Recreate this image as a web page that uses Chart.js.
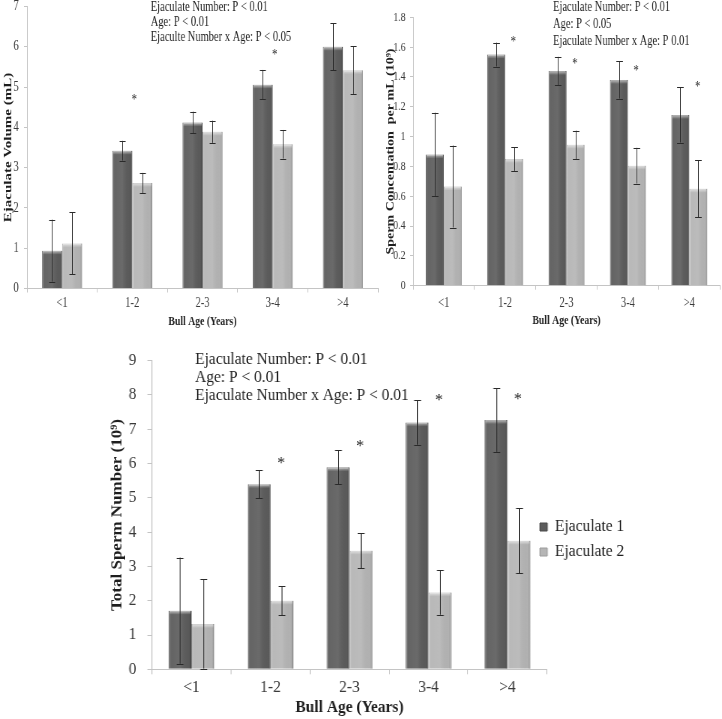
<!DOCTYPE html>
<html>
<head>
<meta charset="utf-8">
<script src="https://cdn.jsdelivr.net/npm/chart.js@4.4.1/dist/chart.umd.min.js"></script>
<style>
html,body{margin:0;padding:0;background:#fff;}
body{width:722px;height:719px;overflow:hidden;position:relative;}
canvas{position:absolute;transform-origin:0 0;}
</style>
</head>
<body>
<canvas id="volChart" width="520" height="335" style="left:0px;top:0px;width:520px;height:335px;transform:scaleX(0.75);"></canvas>
<canvas id="concChart" width="456" height="335" style="left:380px;top:0px;width:456px;height:335px;transform:scaleX(0.75);"></canvas>
<canvas id="totalChart" width="689" height="384" style="left:95px;top:335px;width:689px;height:384px;transform:scaleX(0.91);"></canvas>
<script>
// ---------- data ----------
const ageGroups = ['<1', '1-2', '2-3', '3-4', '>4'];
const seriesNames = ['Ejaculate 1', 'Ejaculate 2'];
const xAxisTitle = 'Bull Age (Years)';

// Ejaculate volume (mL)
const volumeEj1 = [0.94, 3.42, 4.12, 5.06, 6.00];
const volumeEj1Err = [0.77, 0.245, 0.27, 0.365, 0.585];
const volumeEj2 = [1.12, 2.62, 3.89, 3.58, 5.42];
const volumeEj2Err = [0.77, 0.25, 0.275, 0.355, 0.59];
const volumeStars = [null, 4.73, null, 5.85, null];
const volumeTicks = [0, 1, 2, 3, 4, 5, 6, 7];
const volumeStats = ['Ejaculate Number: P < 0.01', 'Age: P < 0.01', 'Ejaculte Number x Age: P < 0.05'];

// Sperm concentration per mL (10^9)
const concEj1 = [0.88, 1.55, 1.44, 1.38, 1.145];
const concEj1Err = [0.28, 0.08, 0.095, 0.125, 0.185];
const concEj2 = [0.665, 0.85, 0.945, 0.805, 0.65];
const concEj2Err = [0.275, 0.08, 0.095, 0.12, 0.19];
const concStars = [null, 1.648, 1.50, 1.453, 1.35];
const concTicks = [0, 0.2, 0.4, 0.6, 0.8, 1, 1.2, 1.4, 1.6, 1.8];
const concStats = ['Ejaculate Number: P < 0.01', 'Age: P < 0.05', 'Ejaculate Number x Age: P 0.01'];

// Total sperm number (10^9)
const totalEj1 = [1.71, 5.40, 5.89, 7.20, 7.27];
const totalEj1Err = [1.55, 0.41, 0.50, 0.65, 0.93];
const totalEj2 = [1.32, 2.00, 3.46, 2.24, 3.75];
const totalEj2Err = [1.30, 0.42, 0.51, 0.65, 0.95];
const totalStars = [null, 6.08, 6.59, 7.93, 7.97];
const totalTicks = [0, 1, 2, 3, 4, 5, 6, 7, 8, 9];
const totalStats = ['Ejaculate Number: P < 0.01', 'Age: P < 0.01', 'Ejaculate Number x Age: P < 0.01'];

// ---------- styles ----------
const FONT = "'Liberation Serif', 'Times New Roman', Times, serif";
const DARK = '#5c5c5c', DARK_EDGE = '#4a4a4a';
const LIGHT = '#b5b5b5', LIGHT_EDGE = '#9c9c9c';
const AXIS = '#c4c4c4';
const TICK = '#3a3a3a';
const TEXT = '#1e1e1e';

function decorPlugin(spec) {
  return {
    id: 'decor',
    afterLayout(chart) {
      if (spec.legendPos) {
        const lg = chart.legend;
        lg.left = spec.legendPos.left; lg.right = lg.left + lg.width;
        lg.top = spec.legendPos.top; lg.bottom = lg.top + lg.height;
      }
    },
    afterDatasetsDraw(chart) {
      const ctx = chart.ctx;
      const ys = chart.scales.y;
      // bevel shading on bars
      chart.data.datasets.forEach((ds, di) => {
        chart.getDatasetMeta(di).data.forEach((bar) => {
          const p = bar.getProps(['x', 'y', 'base', 'width'], true);
          const l = p.x - p.width / 2, r = p.x + p.width / 2, t = p.y, b = p.base;
          ctx.save();
          const g = ctx.createLinearGradient(l, 0, r, 0);
          g.addColorStop(0, 'rgba(255,255,255,0.20)');
          g.addColorStop(0.12, 'rgba(255,255,255,0.05)');
          g.addColorStop(0.5, 'rgba(255,255,255,0.09)');
          g.addColorStop(0.88, 'rgba(0,0,0,0.02)');
          g.addColorStop(1, 'rgba(0,0,0,0.16)');
          ctx.fillStyle = g;
          ctx.fillRect(l, t, r - l, b - t);
          const bh = Math.min(4, b - t);
          const g2 = ctx.createLinearGradient(0, t, 0, t + bh);
          g2.addColorStop(0, 'rgba(255,255,255,0.6)');
          g2.addColorStop(1, 'rgba(255,255,255,0)');
          ctx.fillStyle = g2;
          ctx.fillRect(l + 1, t, r - l - 2, bh);
          ctx.restore();
        });
      });
      // error bars
      ctx.save();
      ctx.strokeStyle = '#2a2a2a';
      ctx.lineWidth = 1;
      chart.data.datasets.forEach((ds, di) => {
        chart.getDatasetMeta(di).data.forEach((bar, i) => {
          const m = ds.data[i], e = ds.errors[i];
          const yt = ys.getPixelForValue(m + e);
          const yb = ys.getPixelForValue(Math.max(0, m - e));
          const x = Math.round(bar.x) + 0.5;
          ctx.beginPath();
          ctx.moveTo(x, yt); ctx.lineTo(x, yb);
          ctx.moveTo(x - spec.cap, Math.round(yt) + 0.5); ctx.lineTo(x + spec.cap, Math.round(yt) + 0.5);
          ctx.moveTo(x - spec.cap, Math.round(yb) + 0.5); ctx.lineTo(x + spec.cap, Math.round(yb) + 0.5);
          ctx.stroke();
        });
      });
      ctx.restore();
      // significance stars
      const lightMeta = chart.getDatasetMeta(1);
      ctx.save();
      ctx.fillStyle = TEXT;
      ctx.font = spec.starSize + 'px ' + FONT;
      ctx.textAlign = 'center';
      ctx.textBaseline = 'middle';
      spec.stars.forEach((v, i) => {
        if (v === null) return;
        const bar = lightMeta.data[i];
        const x = bar.x - bar.width / 2 + spec.starFrac * bar.width;
        ctx.fillText('*', x, ys.getPixelForValue(v) + spec.starSize * 0.18);
      });
      ctx.restore();
      // statistics annotation
      ctx.save();
      ctx.fillStyle = TEXT;
      ctx.font = spec.statSize + 'px ' + FONT;
      ctx.textAlign = 'left';
      ctx.textBaseline = 'middle';
      spec.stats.forEach((s, i) => {
        ctx.fillText(s, spec.statX, spec.statY + i * spec.statGap);
      });
      ctx.restore();
    }
  };
}

function buildChart(id, spec) {
  return new Chart(document.getElementById(id), {
    type: 'bar',
    data: {
      labels: ageGroups,
      datasets: [
        { label: seriesNames[0], data: spec.ej1, errors: spec.ej1Err, backgroundColor: DARK, borderColor: DARK_EDGE, borderWidth: 1 },
        { label: seriesNames[1], data: spec.ej2, errors: spec.ej2Err, backgroundColor: LIGHT, borderColor: LIGHT_EDGE, borderWidth: 1 }
      ]
    },
    options: {
      responsive: false,
      animation: false,
      devicePixelRatio: 1,
      events: [],
      layout: { padding: spec.pad },
      datasets: { bar: { categoryPercentage: spec.catPct, barPercentage: 1 } },
      plugins: {
        tooltip: { enabled: false },
        legend: spec.legend || { display: false }
      },
      scales: {
        x: {
          grid: { display: true, drawOnChartArea: false, drawTicks: true, tickLength: spec.tickLen, color: AXIS, offset: true },
          border: { display: true, color: AXIS, width: 1 },
          ticks: { font: { family: FONT, size: spec.tickSize }, color: TICK, padding: spec.xTickPad, maxRotation: 0, autoSkip: false },
          title: { display: true, text: xAxisTitle, color: TEXT, font: { family: FONT, size: spec.xTitleSize, weight: 'bold' }, padding: { top: 0, bottom: spec.xTitlePadB } },
          afterFit(s) { s.height = spec.xAxisH; s.paddingLeft = 0; s.paddingRight = 0; }
        },
        y: {
          min: spec.ticks[0],
          max: spec.ticks[spec.ticks.length - 1],
          afterBuildTicks(s) { s.ticks = spec.ticks.map(v => ({ value: v })); },
          grid: { display: true, drawOnChartArea: false, drawTicks: true, tickLength: spec.tickLen, color: AXIS },
          border: { display: true, color: AXIS, width: 1 },
          ticks: { font: { family: FONT, size: spec.yTickSize }, color: TICK, padding: spec.yTickPad, callback: v => String(v) },
          title: { display: true, text: spec.yTitle, color: TEXT, font: { family: FONT, size: spec.yTitleSize, weight: 'bold' }, padding: { top: spec.yTitlePadT, bottom: 0 } },
          afterFit(s) { s.width = spec.yAxisW; s.paddingTop = 0; s.paddingBottom = 0; }
        }
      }
    },
    plugins: [decorPlugin(spec)]
  });
}

buildChart('volChart', {
  ej1: volumeEj1, ej1Err: volumeEj1Err, ej2: volumeEj2, ej2Err: volumeEj2Err,
  stars: volumeStars, ticks: volumeTicks, stats: volumeStats,
  yTitle: 'Ejaculate Volume (mL)',
  pad: { left: 0, right: 16, top: 6.5, bottom: 0 },
  catPct: 0.57, tickLen: 4, tickSize: 14, yTickSize: 14, xTickPad: 2.1, yTickPad: 7,
  xTitleSize: 13, xTitlePadB: 6, yTitleSize: 15, yTitlePadT: 2,
  xAxisH: 46.5, yAxisW: 36,
  cap: 4, starSize: 14, starFrac: 0.1,
  statSize: 14, statX: 201, statY: 7.5, statGap: 15
});

buildChart('concChart', {
  ej1: concEj1, ej1Err: concEj1Err, ej2: concEj2, ej2Err: concEj2Err,
  stars: concStars, ticks: concTicks, stats: concStats,
  yTitle: 'Sperm Concentation  per mL (10\u2079)',
  pad: { left: 0, right: 2.7, top: 17.3, bottom: 0 },
  catPct: 0.585, tickLen: 4, tickSize: 14, yTickSize: 13, xTickPad: 4.9, yTickPad: 6,
  xTitleSize: 13, xTitlePadB: 6.2, yTitleSize: 14, yTitlePadT: 6,
  xAxisH: 49.3, yAxisW: 44,
  cap: 4.4, starSize: 14, starFrac: 0.46,
  statSize: 14, statX: 230.7, statY: 7.5, statGap: 16.7
});

buildChart('totalChart', {
  ej1: totalEj1, ej1Err: totalEj1Err, ej2: totalEj2, ej2Err: totalEj2Err,
  stars: totalStars, ticks: totalTicks, stats: totalStats,
  yTitle: 'Total Sperm Number (10\u2079)',
  pad: { left: 0, right: 192.3, top: 25.7, bottom: 0 },
  catPct: 0.58, tickLen: 5, tickSize: 17, yTickSize: 17, xTickPad: 3.5, yTickPad: 12,
  xTitleSize: 17, xTitlePadB: 0.8, yTitleSize: 17, yTitlePadT: 14,
  xAxisH: 49.7, yAxisW: 62.6,
  cap: 3.8, starSize: 17, starFrac: 0.46,
  statSize: 17, statX: 110, statY: 25, statGap: 18,
  legend: {
    display: true, position: 'chartArea', align: 'start',
    labels: { boxWidth: 8, boxHeight: 8, padding: 8, color: TEXT, font: { family: FONT, size: 17 } }
  },
  legendPos: { left: 481, top: 175.5 }
});
</script>
</body>
</html>
